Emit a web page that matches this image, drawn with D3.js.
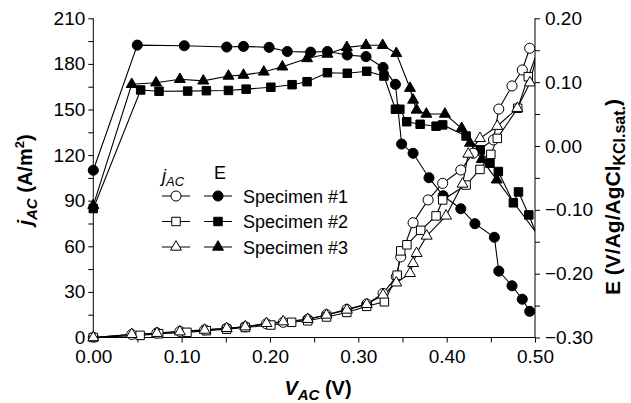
<!DOCTYPE html>
<html>
<head>
<meta charset="utf-8">
<script src="https://cdn.jsdelivr.net/npm/d3@7"></script>
<style>
  body { margin: 0; background: #fff; }
  svg { font-family: "Liberation Sans", Arial, Helvetica, sans-serif; }
</style>
</head>
<body>
<svg id="chart" width="631" height="403"></svg>
<script>
// ---- data ----
// specimen #1 : open circles (j_AC) / filled circles (E)
var v1J = [0, 0.0435, 0.072, 0.098, 0.126, 0.151, 0.172, 0.196, 0.215, 0.2427, 0.264, 0.287, 0.3095, 0.328, 0.343, 0.348, 0.362, 0.379, 0.3955, 0.416, 0.430, 0.453, 0.459, 0.474, 0.4856, 0.494];
var j1 = [0, 2, 3, 4, 5, 6, 7, 9, 10, 12, 15, 18.5, 22, 29, 40, 53, 75.5, 90.5, 101.4, 110.2, 121.2, 130, 150.3, 165.5, 176, 190.3];
var v1E = [0, 0.0498, 0.103, 0.151, 0.170, 0.199, 0.2196, 0.246, 0.265, 0.2875, 0.3087, 0.328, 0.342, 0.349, 0.362, 0.380, 0.396, 0.416, 0.432, 0.454, 0.459, 0.474, 0.4856, 0.494];
var e1 = [-0.038, 0.158, 0.157, 0.155, 0.156, 0.1545, 0.148, 0.147, 0.148, 0.1425, 0.140, 0.123, 0.0966, 0.003, -0.0114, -0.0497, -0.078, -0.0983, -0.1217, -0.143, -0.196, -0.219, -0.240, -0.259];

// specimen #2 : open squares (j_AC) / filled squares (E)
var v2J = [0, 0.053, 0.074, 0.106, 0.128, 0.151, 0.172, 0.201, 0.2245, 0.2427, 0.264, 0.287, 0.3095, 0.3295, 0.344, 0.348, 0.355, 0.3706, 0.388, 0.3955, 0.422, 0.4377, 0.450, 0.4573, 0.4804, 0.4924, 0.51];
var j2 = [0, 1.4, 2.5, 3.4, 4.5, 5.5, 6.6, 8.2, 10, 11, 13.5, 16.5, 20.5, 23.5, 41, 57, 61, 70.5, 80, 90.5, 100.3, 110.6, 120.5, 131, 150.8, 171.6, 200];
var v2E = [0, 0.0536, 0.0744, 0.1068, 0.128, 0.153, 0.173, 0.201, 0.225, 0.242, 0.265, 0.2875, 0.3095, 0.329, 0.342, 0.347, 0.3548, 0.370, 0.388, 0.3955, 0.422, 0.438, 0.449, 0.4585, 0.4755, 0.4813, 0.493, 0.51];
var e2 = [-0.098, 0.0877, 0.0857, 0.086, 0.0866, 0.087, 0.089, 0.092, 0.096, 0.1007, 0.1148, 0.1139, 0.117, 0.1096, 0.0575, 0.0575, 0.038, 0.034, 0.031, 0.033, 0.0156, -0.006, -0.027, -0.040, -0.089, -0.072, -0.108, -0.167];

// specimen #3 : open triangles (j_AC) / filled triangles (E)
var v3J = [0, 0.0435, 0.072, 0.098, 0.126, 0.151, 0.172, 0.196, 0.215, 0.2427, 0.264, 0.287, 0.3095, 0.328, 0.343, 0.3585, 0.362, 0.366, 0.3774, 0.3993, 0.418, 0.4245, 0.4377, 0.4573, 0.480, 0.4943, 0.51];
var j3 = [0, 2.1, 2.8, 3.8, 4.9, 6, 7.1, 9.3, 10.4, 12, 14.8, 18.1, 21.8, 28, 36, 42.2, 48.8, 55.4, 66.8, 80, 101, 120.7, 131, 139, 150.8, 167.6, 205];
var v3E = [0, 0.0435, 0.071, 0.098, 0.1245, 0.153, 0.170, 0.193, 0.214, 0.242, 0.265, 0.287, 0.3087, 0.3276, 0.343, 0.3585, 0.362, 0.366, 0.377, 0.398, 0.417, 0.4264, 0.4397, 0.4567, 0.51];
var e3 = [-0.093, 0.0966, 0.099, 0.1045, 0.102, 0.1096, 0.111, 0.116, 0.124, 0.137, 0.144, 0.1545, 0.1577, 0.1577, 0.145, 0.0905, 0.072, 0.0564, 0.05, 0.05, 0.0277, 0.0045, -0.021, -0.053, -0.152];

var xTicks = [0, 0.1, 0.2, 0.3, 0.4, 0.5];
var jTicks = [0, 30, 60, 90, 120, 150, 180, 210];
var eTicks = [-0.3, -0.2, -0.1, 0, 0.1, 0.2];
var legendNames = ['Specimen #1', 'Specimen #2', 'Specimen #3'];

// ---- layout ----
var svg = d3.select('#chart');
var pLeft = 93.3, pRight = 535, pTop = 18.3, pBottom = 337.5;

var x = d3.scaleLinear().domain([0, 0.5]).range([pLeft, pRight]);
var yJ = d3.scaleLinear().domain([0, 210]).range([pBottom, pTop]);
var yE = d3.scaleLinear().domain([-0.3, 0.2]).range([pBottom, pTop]);

svg.append('defs').append('clipPath').attr('id', 'plotclip')
    .append('rect').attr('x', 80).attr('y', 0).attr('width', pRight - 80).attr('height', pBottom + 5);

// axes
function styleAxis(g) {
    g.select('.domain').remove();
    g.selectAll('.tick line').attr('stroke', '#000');
    g.selectAll('.tick text').attr('fill', '#000').style('font-size', '19px');
}

svg.append('g').attr('transform', 'translate(0,' + pBottom + ')')
    .call(d3.axisBottom(x).tickValues(xTicks).tickSize(5).tickPadding(7).tickFormat(d3.format('.2f')))
    .call(styleAxis);
svg.append('g').attr('transform', 'translate(0,' + pBottom + ')')
    .call(d3.axisBottom(x).tickValues([0.05, 0.15, 0.25, 0.35, 0.45]).tickSize(5).tickFormat(''))
    .call(styleAxis);

svg.append('g').attr('transform', 'translate(' + pLeft + ',0)')
    .call(d3.axisLeft(yJ).tickValues(jTicks).tickSize(5).tickPadding(3).tickFormat(d3.format('d')))
    .call(styleAxis);
svg.append('g').attr('transform', 'translate(' + pLeft + ',0)')
    .call(d3.axisLeft(yJ).tickValues([15, 45, 75, 105, 135, 165, 195]).tickSize(5).tickFormat(''))
    .call(styleAxis);

svg.append('g').attr('transform', 'translate(' + pRight + ',0)')
    .call(d3.axisRight(yE).tickValues(eTicks).tickSize(5).tickPadding(5)
        .tickFormat(function(d) { return d3.format('.2f')(d).replace('-', '\u2212'); }))
    .call(styleAxis);
svg.append('g').attr('transform', 'translate(' + pRight + ',0)')
    .call(d3.axisRight(yE).tickValues([-0.25, -0.15, -0.05, 0.05, 0.15]).tickSize(5).tickFormat(''))
    .call(styleAxis);

svg.append('line').attr('x1', pLeft).attr('x2', pLeft).attr('y1', pTop).attr('y2', pBottom).attr('stroke', '#000');
svg.append('line').attr('x1', pRight).attr('x2', pRight).attr('y1', pTop).attr('y2', pBottom).attr('stroke', '#000');
svg.append('line').attr('x1', pLeft).attr('x2', pRight).attr('y1', pBottom).attr('y2', pBottom).attr('stroke', '#000');

// ---- series ----
var plot = svg.append('g').attr('clip-path', 'url(#plotclip)');

function zip(vs, ys) { return vs.map(function(v, i) { return [v, ys[i]]; }); }

var symCircle = d3.symbol().type(d3.symbolCircle).size(80);
var symSquare = d3.symbol().type(d3.symbolSquare).size(72);
var symTri = d3.symbol().type(d3.symbolTriangle).size(52);

var series = [
    {pts: zip(v1E, e1), y: yE, sym: symCircle, fill: '#000'},
    {pts: zip(v2E, e2), y: yE, sym: symSquare, fill: '#000'},
    {pts: zip(v3E, e3), y: yE, sym: symTri, fill: '#000'},
    {pts: zip(v1J, j1), y: yJ, sym: symCircle, fill: '#fff'},
    {pts: zip(v2J, j2), y: yJ, sym: symSquare, fill: '#fff'},
    {pts: zip(v3J, j3), y: yJ, sym: symTri, fill: '#fff'}
];

series.forEach(function(s) {
    var line = d3.line().x(function(d) { return x(d[0]); }).y(function(d) { return s.y(d[1]); });
    plot.append('path').attr('d', line(s.pts))
        .attr('fill', 'none').attr('stroke', '#000').attr('stroke-width', 1.1);
});
series.forEach(function(s) {
    plot.append('g').selectAll('path').data(s.pts).enter().append('path')
        .attr('d', s.sym())
        .attr('transform', function(d) { return 'translate(' + x(d[0]) + ',' + s.y(d[1]) + ')'; })
        .attr('fill', s.fill).attr('stroke', '#000').attr('stroke-width', 1);
});

// ---- legend ----
var lg = svg.append('g');
var headJ = lg.append('text').attr('x', 162).attr('y', 182).style('font-size', '18px').style('font-style', 'italic');
headJ.append('tspan').text('j');
headJ.append('tspan').attr('dy', 4).style('font-size', '13px').text('AC');
lg.append('text').attr('x', 214).attr('y', 179).style('font-size', '18px').text('E');

var openSyms = [symCircle, symSquare, symTri];
legendNames.forEach(function(name, i) {
    var yy = 196 + i * 25.5;
    lg.append('line').attr('x1', 162).attr('x2', 190).attr('y1', yy).attr('y2', yy).attr('stroke', '#000');
    lg.append('path').attr('d', openSyms[i]()).attr('transform', 'translate(176,' + yy + ')')
        .attr('fill', '#fff').attr('stroke', '#000');
    lg.append('line').attr('x1', 204).attr('x2', 232).attr('y1', yy).attr('y2', yy).attr('stroke', '#000');
    lg.append('path').attr('d', openSyms[i]()).attr('transform', 'translate(218,' + yy + ')')
        .attr('fill', '#000').attr('stroke', '#000');
    lg.append('text').attr('x', 243).attr('y', yy + 6.5).style('font-size', '18px').text(name);
});

// ---- axis titles ----
var xt = svg.append('text').attr('x', 318).attr('y', 395).attr('text-anchor', 'middle')
    .style('font-size', '20px').style('font-weight', 'bold');
xt.append('tspan').style('font-style', 'italic').text('V');
xt.append('tspan').attr('dy', 5).style('font-style', 'italic').style('font-size', '15px').text('AC');
xt.append('tspan').attr('dy', -5).text(' (V)');

var lt = svg.append('text').attr('transform', 'translate(32,180) rotate(-90)').attr('text-anchor', 'middle')
    .style('font-size', '20px').style('font-weight', 'bold');
lt.append('tspan').style('font-style', 'italic').text('j');
lt.append('tspan').attr('dy', 5).style('font-style', 'italic').style('font-size', '15px').text('AC');
lt.append('tspan').attr('dy', -5).text(' (A/m');
lt.append('tspan').attr('dy', -8).style('font-size', '13px').text('2');
lt.append('tspan').attr('dy', 8).text(')');

var rt = svg.append('text').attr('transform', 'translate(620,197) rotate(-90)').attr('text-anchor', 'middle')
    .style('font-size', '21px').style('font-weight', 'bold');
rt.append('tspan').text('E (V/Ag/AgCl');
rt.append('tspan').attr('dy', 5).style('font-size', '16px').text('KCl.sat.');
rt.append('tspan').attr('dy', -5).text(')');
</script>
</body>
</html>
